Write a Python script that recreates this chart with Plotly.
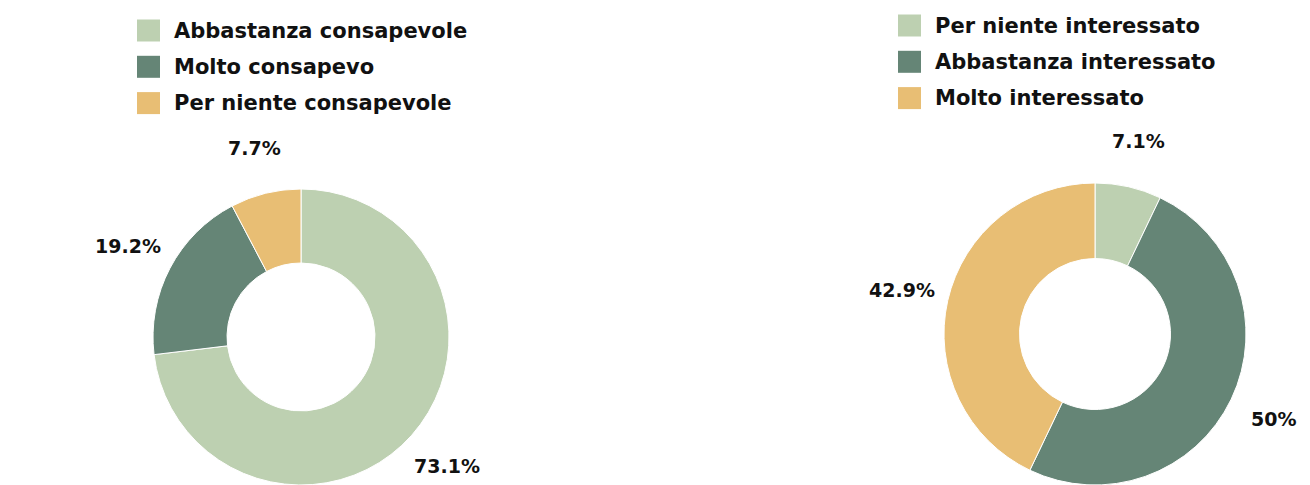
import math
import plotly.graph_objects as go

# ---------------- data ----------------
left_labels = ["Abbastanza consapevole", "Molto consapevo", "Per niente consapevole"]
left_values = [73.1, 19.2, 7.7]

right_labels = ["Per niente interessato", "Abbastanza interessato", "Molto interessato"]
right_values = [7.1, 50, 42.9]

slice_colors = ["#BDD0B1", "#658576", "#E8BE74"]

# ---------------- layout constants (pixels) ----------------
W, H = 1310, 485
FONT = "DejaVu Sans"
TEXT_COLOR = "#111111"
HOLE = 0.5
LABEL_GAP = 47          # distance of percent label centre beyond outer radius
SQ_W, SQ_H = 23, 22     # legend swatch size
ROW_STEP = 36.3
TEXT_GAP = 12

pies = [
    dict(labels=left_labels, values=left_values, cx=301, r=148,
         leg_x=137, leg_y=30.5),
    dict(labels=right_labels, values=right_values, cx=1095, r=151,
         leg_x=898, leg_y=25.5),
]


def px_x(x):
    return x / W


def px_y(y):  # y measured from top
    return 1 - y / H


fig = go.Figure()
shapes = []
annotations = []

for p in pies:
    cx, r = p["cx"], p["r"]
    cy_top = H - r  # pie sits on bottom edge
    fig.add_trace(go.Pie(
        labels=p["labels"], values=p["values"],
        hole=HOLE, sort=False, direction="clockwise", rotation=0,
        marker=dict(colors=slice_colors, line=dict(color="white", width=1)),
        textinfo="none", showlegend=False,
        domain=dict(x=[px_x(cx - r), px_x(cx + r)], y=[0, 2 * r / H]),
    ))

    # percent labels, placed from the cumulative data
    total = sum(p["values"])
    cum = 0.0
    for v in p["values"]:
        mid = (cum + v / 2) / total
        cum += v
        theta = 2 * math.pi * mid
        lr = r + LABEL_GAP
        lx = cx + lr * math.sin(theta)
        ly = cy_top - lr * math.cos(theta)
        pct = v / total * 100
        annotations.append(dict(
            x=px_x(lx), y=px_y(ly), xref="paper", yref="paper",
            text=f"{pct:.3g}%", showarrow=False,
            xanchor="center", yanchor="middle",
            font=dict(family=FONT, size=19, color=TEXT_COLOR, weight="bold"),
        ))

    # legend
    for i, lab in enumerate(p["labels"]):
        yc = p["leg_y"] + i * ROW_STEP
        shapes.append(dict(
            type="rect", xref="paper", yref="paper",
            x0=px_x(p["leg_x"]), x1=px_x(p["leg_x"] + SQ_W),
            y0=px_y(yc - SQ_H / 2), y1=px_y(yc + SQ_H / 2),
            fillcolor=slice_colors[i], line=dict(width=0),
        ))
        annotations.append(dict(
            x=px_x(p["leg_x"] + SQ_W + TEXT_GAP), y=px_y(yc),
            xref="paper", yref="paper", text=lab, showarrow=False,
            xanchor="left", yanchor="middle",
            font=dict(family=FONT, size=21, color=TEXT_COLOR, weight="bold"),
        ))

fig.update_layout(
    width=W, height=H,
    margin=dict(l=0, r=0, t=0, b=0),
    paper_bgcolor="white", plot_bgcolor="white",
    shapes=shapes, annotations=annotations,
)

fig.write_html("out.html")
